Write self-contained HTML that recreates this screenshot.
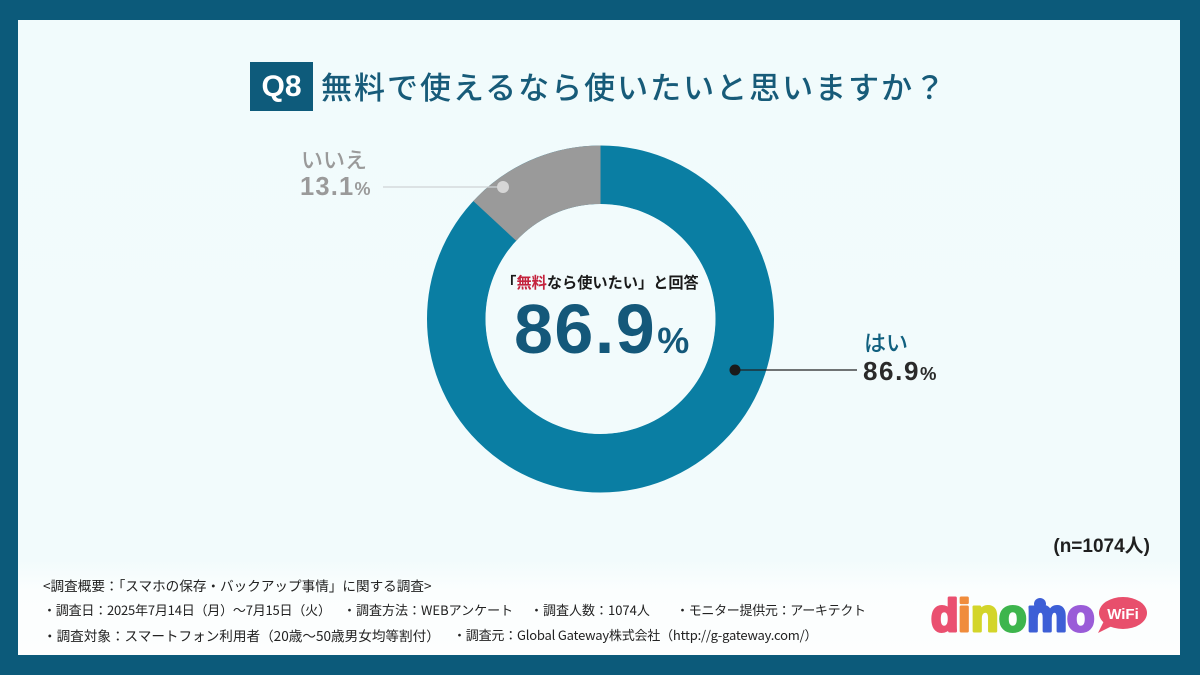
<!DOCTYPE html>
<html><head><meta charset="utf-8">
<style>
*{margin:0;padding:0;box-sizing:border-box}
html,body{width:1200px;height:675px;overflow:hidden;background:#0c5a7a}
body{position:relative;font-family:"Liberation Sans","Noto Sans CJK JP",sans-serif}
.panel{position:absolute;left:18px;top:20px;width:1162px;height:635px;background:linear-gradient(to bottom,#f1fbfc 0,#f2fbfc 540px,#fbfefe 570px,#fdfefe 635px)}
.abs{position:absolute;white-space:nowrap}
.q8{left:250px;top:62px;width:63px;height:49px;background:#0e5b7b;color:#fff;font-weight:bold;font-size:30px;line-height:49px;text-align:center}
.title{left:321px;top:63px;font-family:"Noto Sans CJK JP",sans-serif;font-weight:500;font-size:31px;line-height:46px;letter-spacing:2px;color:#175b79}
.foot{font-family:"Noto Sans CJK JP",sans-serif;font-size:13.6px;color:#222;line-height:18px}
.s{font-size:13px}
</style></head><body>
<div class="panel"></div>
<div class="abs q8">Q8</div>
<div class="abs title">無料で使えるなら使いたいと思いますか？</div>

<svg class="abs" style="left:0;top:0" width="1200" height="675">
  <circle cx="600.5" cy="319" r="144.25" fill="none" stroke="#0a7ea3" stroke-width="58.5"/>
  <circle cx="600.5" cy="319" r="144.25" fill="none" stroke="#9a9a9a" stroke-width="58.5"
    stroke-dasharray="118.7 1000" transform="rotate(-137.16 600.5 319)"/>
  <circle cx="600.5" cy="319" r="114.8" fill="#f2fbfc"/>
  <line x1="383" y1="187" x2="500" y2="187" stroke="#cfd4d6" stroke-width="1.2"/>
  <circle cx="503" cy="187" r="6" fill="#d6d6d6"/>
  <line x1="735" y1="370" x2="857" y2="370" stroke="#222" stroke-width="1.2"/>
  <circle cx="735" cy="370" r="5.5" fill="#1a1a1a"/>

  <text x="600" y="288" text-anchor="middle" font-family="Noto Sans CJK JP, sans-serif" font-weight="bold" font-size="15.2" fill="#1a1a1a">「<tspan fill="#c4233d">無料</tspan>なら使いたい」と回答</text>
  <text x="514" y="353" font-family="Liberation Sans, sans-serif" font-weight="bold" font-size="70" letter-spacing="1.5" fill="#14587a">86.9<tspan font-size="36" dx="1">%</tspan></text>

  <text x="301" y="168" font-family="Noto Sans CJK JP, sans-serif" font-weight="500" font-size="22" fill="#9a9a9a">いいえ</text>
  <text x="300" y="195" font-family="Liberation Sans, sans-serif" font-weight="bold" font-size="25.5" fill="#9a9a9a" letter-spacing="1.2">13.1<tspan font-size="18">%</tspan></text>

  <text x="864" y="351" font-family="Noto Sans CJK JP, sans-serif" font-weight="500" font-size="22" fill="#11607f">はい</text>
  <text x="863" y="380" font-family="Liberation Sans, sans-serif" font-weight="bold" font-size="26" fill="#2a2a2a" letter-spacing="1.6">86.9<tspan font-size="18.5">%</tspan></text>

  <text x="1150" y="552" text-anchor="end" font-family="Liberation Sans, Noto Sans CJK JP, sans-serif" font-weight="bold" font-size="19" fill="#1f1f1f">(n=1074人)</text>

  <!-- logo -->
  <g font-family="Liberation Sans, sans-serif" font-weight="bold" font-size="45" stroke-width="3" stroke-linejoin="round">
    <text x="931" y="631" fill="#ea5070" stroke="#ea5070">d</text>
    <text x="958" y="631" fill="#f08c3c" stroke="#f08c3c">i</text>
    <text x="971" y="631" fill="#d3d52a" stroke="#d3d52a">n</text>
    <text x="999" y="631" fill="#3db54d" stroke="#3db54d">o</text>
    <text x="1027" y="631" fill="#3d5fd6" stroke="#3d5fd6">m</text>
    <text x="1067" y="631" fill="#9a5cd8" stroke="#9a5cd8">o</text>
  </g>
  <circle cx="1040" cy="604" r="6" fill="#3d5fd6"/>
  <ellipse cx="1123" cy="613" rx="24" ry="16" fill="#e84f6c"/>
  <path d="M1104 621 L1098 633 L1112 626 Z" fill="#e84f6c"/>
  <text x="1123" y="619" text-anchor="middle" font-family="Liberation Sans, sans-serif" font-weight="bold" font-size="15" fill="#fff">WiFi</text>
</svg>

<div class="abs foot" style="left:43px;top:576px">&lt;調査概要：「スマホの保存・バックアップ事情」に関する調査&gt;</div>
<div class="abs foot s" style="left:43px;top:601px;letter-spacing:-0.2px">・調査日：2025年7月14日（月）～7月15日（火）</div>
<div class="abs foot s" style="left:343px;top:601px">・調査方法：WEBアンケート</div>
<div class="abs foot s" style="left:530px;top:601px">・調査人数：1074人</div>
<div class="abs foot s" style="left:676px;top:601px;letter-spacing:-0.3px">・モニター提供元：アーキテクト</div>
<div class="abs foot" style="left:43px;top:626px">・調査対象：スマートフォン利用者（20歳～50歳男女均等割付）</div>
<div class="abs foot s" style="left:453px;top:626px;letter-spacing:-0.2px">・調査元：Global Gateway株式会社（http://g-gateway.com/）</div>
</body></html>
